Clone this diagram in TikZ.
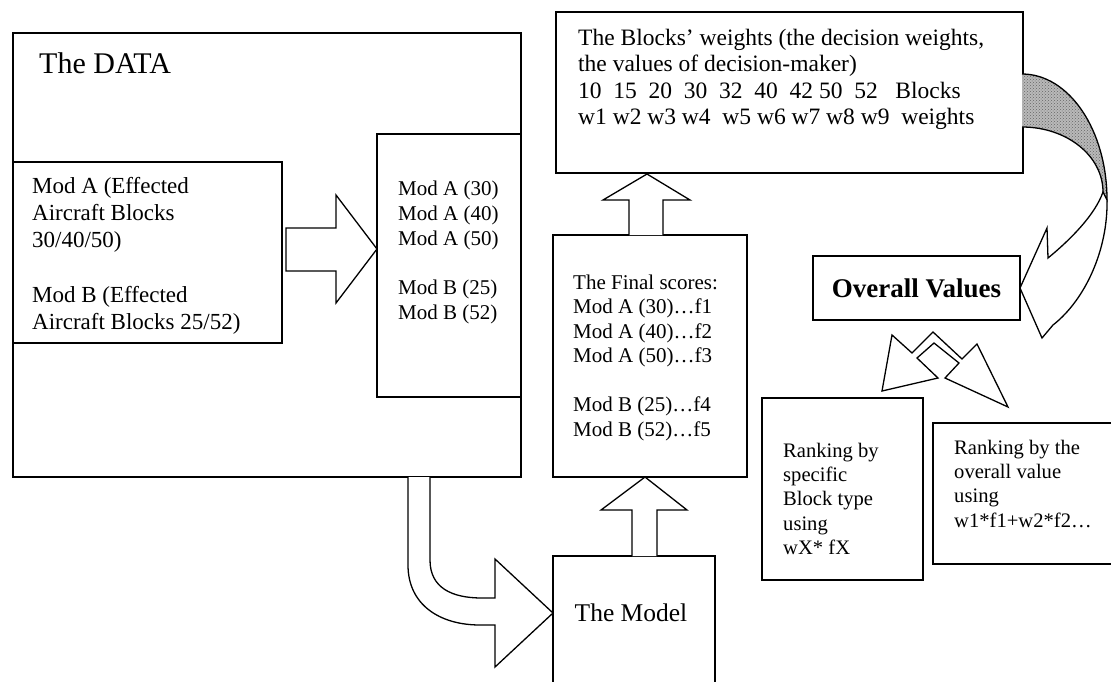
\documentclass[tikz,border=0pt]{standalone}
\usepackage{fontspec}
\setmainfont{Liberation Serif}
\usetikzlibrary{patterns}
\newcommand{\fsz}[2]{\fontsize{#1pt}{#2pt}\selectfont}

\begin{document}
\begin{tikzpicture}[x=1pt,y=-1pt,
  blk/.style={draw,line width=1.3pt,inner sep=0pt,outer sep=0pt},
  txt/.style={anchor=north west,inner sep=0pt,align=left},
  barrow/.style={draw,line width=1.3pt,fill=white,line join=miter}]

  \useasboundingbox (0,0) rectangle (1111,681);

  % the data
  \node[blk,minimum width=508pt,minimum height=444pt] (data) at (267,255) {};
  \node[txt,anchor=west,font=\fsz{30}{36}] (datatitle) at (39,63) {The DATA};
  \node[blk,minimum width=269pt,minimum height=181pt] (effected) at (147.5,252.5) {};
  \node[txt,font=\fsz{23}{27.3}] (efftext) at (32,174)
    {\strut Mod A (Effected\\Aircraft Blocks\\30/40/50)\\[27.3pt]Mod B (Effected\\Aircraft Blocks 25/52)};
  \node[blk,minimum width=144pt,minimum height=263pt] (modlist) at (449,265.5) {};
  \node[txt,font=\fsz{21}{24.8}] (listtext) at (398,178)
    {\strut Mod A (30)\\Mod A (40)\\Mod A (50)\\[24.8pt]Mod B (25)\\Mod B (52)};

  % weights
  \node[blk,minimum width=467pt,minimum height=161pt] (weights) at (789.5,92.5) {};
  \node[txt,font=\fsz{23.5}{26.3}] (wtext) at (578,27)
    {\strut The Blocks' weights (the decision weights,\\the values of decision-maker)\\
     10\ \ 15\ \ 20\ \ 30\ \ 32\ \ 40\ \ 42 50\ \ 52\ \ \ Blocks\\
     w1 w2 w3 w4\ \ w5 w6 w7 w8 w9\ \ weights};

  % final scores and model
  \node[blk,minimum width=194pt,minimum height=242pt] (final) at (650,356) {};
  \node[txt,font=\fsz{21}{24.5}] (finaltext) at (573,272)
    {\strut The Final scores:\\Mod A (30)…f1\\Mod A (40)…f2\\Mod A (50)…f3\\[24.5pt]Mod B (25)…f4\\Mod B (52)…f5};
  \node[blk,minimum width=162pt,minimum height=150pt] (model) at (634,631) {};
  \node[font=\fsz{25.5}{30}] (modeltxt) at (631,613) {The Model};

  % overall values and rankings
  \node[blk,minimum width=207pt,minimum height=64pt,font=\fsz{27}{30}\bfseries] (overall) at (916.5,288) {Overall Values};
  \node[blk,minimum width=161pt,minimum height=182pt] (rankone) at (842.5,489) {};
  \node[txt,font=\fsz{20.6}{24.3}] (rankonetext) at (783,440)
    {\strut Ranking by\\specific\\Block type\\using\\wX* fX};
  \node[blk,minimum width=187pt,minimum height=141pt] (ranktwo) at (1026.5,493.5) {};
  \node[txt,font=\fsz{20.6}{24.3}] (ranktwotext) at (954,437)
    {\strut Ranking by the\\overall value\\using\\w1*f1+w2*f2…};

  % block arrows
  \draw[barrow] (286,228) -- (336,228) -- (336,195) -- (modlist.west |- 0,249)
    -- (336,303) -- (336,271) -- (286,271) -- cycle;
  \draw[barrow] (629,235) -- (629,200) -- (603,200) -- (647,174) -- (690,200)
    -- (663,200) -- (663,235);
  \draw[barrow] (632,556) -- (632,510) -- (601,510) -- (645,477) -- (687,510)
    -- (657,510) -- (657,556);
  \draw[barrow] (408,477) -- (408,565) .. controls (408,605) and (440,625) .. (480,625)
    -- (495,625) -- (495,667) -- (model.west |- modeltxt.center) -- (495,559) -- (495,598)
    -- (482,598) .. controls (452,598) and (430,588) .. (430,560) -- (430,477);

  % curved arrow to overall values
  \draw[line width=1.3pt,preaction={fill=gray!55},pattern=crosshatch dots,pattern color=black!60]
    (1022,74) .. controls (1069,74) and (1107,130) .. (1107,200) -- (1103,192)
    .. controls (1103,156) and (1067,127) .. (1022,127);
  \draw[barrow] (1107,200) .. controls (1108,250) and (1085,300) .. (1053,325)
    -- (1042,338) -- (overall.east) -- (1047,228) -- (1048,258)
    .. controls (1070,240) and (1095,215) .. (1103,192) -- cycle;

  % double arrow to rankings
  \draw[barrow] (892,335) -- (912,353) -- (933,332) -- (962,359) -- (977,344) -- (1008,407)
    -- (945,378) -- (959,363) -- (934,343) -- (917,358) -- (938,378) -- (882,391) -- cycle;
\end{tikzpicture}
\end{document}
